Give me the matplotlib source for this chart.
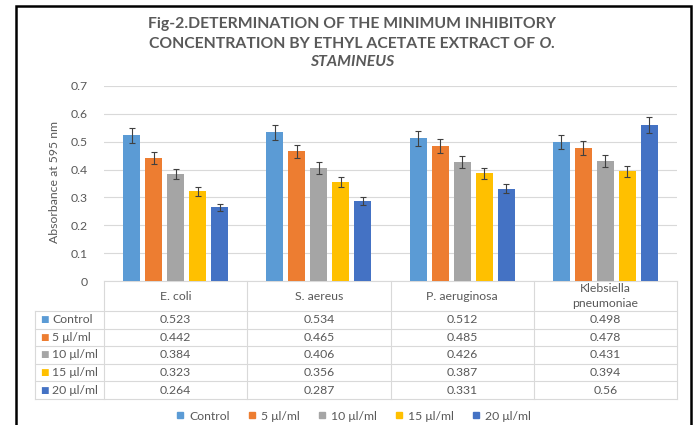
import matplotlib
matplotlib.use("Agg")
import matplotlib.pyplot as plt
from matplotlib.patches import Patch, Rectangle

plt.rcParams['font.family'] = ['Lato', 'DejaVu Sans']

categories = ["E. coli", "S. aereus", "P. aeruginosa", "Klebsiella\npneumoniae"]
series_names = ["Control", "5 μl/ml", "10 μl/ml", "15 μl/ml", "20 μl/ml"]
control = [0.523, 0.534, 0.512, 0.498]
ul5 = [0.442, 0.465, 0.485, 0.478]
ul10 = [0.384, 0.406, 0.426, 0.431]
ul15 = [0.323, 0.356, 0.387, 0.394]
ul20 = [0.264, 0.287, 0.331, 0.56]
series = [control, ul5, ul10, ul15, ul20]
err_pct = 0.05  # Excel percentage error bars
colors = ["#5B9BD5", "#ED7D31", "#A5A5A5", "#FFC000", "#4472C4"]
yticks = [0, 0.1, 0.2, 0.3, 0.4, 0.5, 0.6, 0.7]

TXT = "#595959"
GRID = "#D9D9D9"
FS = 8.8

fig = plt.figure(figsize=(6.97, 4.25), dpi=100)
W, H = 697, 425
ax = fig.add_axes([104 / W, 1 - 281 / H, 573 / W, 195 / H])

step = 0.1535
bw = 0.1186
for j, (vals, c) in enumerate(zip(series, colors)):
    xs = [i + (j - 2) * step for i in range(len(categories))]
    ax.bar(xs, vals, width=bw, color=c, zorder=3)
    ax.errorbar(xs, vals, yerr=[v * err_pct for v in vals], fmt='none',
                ecolor="#404040", elinewidth=0.8, capsize=2.5, capthick=0.8, zorder=4)

ax.set_xlim(-0.5, len(categories) - 0.5)
ax.set_ylim(0, 0.7)
ax.set_yticks(yticks)
ax.set_yticklabels([f"{t:g}" for t in yticks])
ax.tick_params(axis='y', length=0, pad=12, labelsize=FS, labelcolor=TXT)
ax.set_xticks([])
ax.grid(axis='y', color=GRID, lw=0.8, zorder=0)
for s in ['top', 'right', 'left']:
    ax.spines[s].set_visible(False)
ax.spines['bottom'].set_color(GRID)
ax.spines['bottom'].set_linewidth(0.8)

# data table
T = ax.transAxes
n = len(categories)
label_left = (35 - 104) / 573
hdr_bot = -30 / 195
row_h = 17.6 / 195
bottom = hdr_bot - len(series) * row_h
lk = dict(color=GRID, lw=0.8, transform=T, clip_on=False)
for r in range(len(series) + 1):
    y = hdr_bot - r * row_h
    ax.plot([label_left, 1], [y, y], **lk)
ax.plot([label_left, label_left], [hdr_bot, bottom], **lk)
for i in range(n + 1):
    x = i / n
    ax.plot([x, x], [0, bottom], **lk)
for i, cat in enumerate(categories):
    ax.text((i + 0.5) / n, hdr_bot / 2, cat, transform=T, ha='center', va='center',
            fontsize=FS, color=TXT, linespacing=1.35)
for r, (name, vals, c) in enumerate(zip(series_names, series, colors)):
    y = hdr_bot - (r + 0.5) * row_h
    ax.text((40 - 104) / 573, y, "■", transform=T, ha='left', va='center',
            fontsize=6.5, color=c, family=['DejaVu Sans'])
    ax.text((52 - 104) / 573, y, name, transform=T, ha='left', va='center',
            fontsize=FS, color=TXT)
    for i, v in enumerate(vals):
        ax.text((i + 0.5) / n, y, f"{v:g}", transform=T, ha='center', va='center',
                fontsize=FS, color=TXT)

# y label
fig.text(55 / W, 1 - 182 / H, "Absorbance at 595 nm", rotation=90, ha='center', va='center',
         fontsize=FS, color=TXT)

# title
tcx = 352 / W
tk = dict(fontsize=11.3, fontweight='bold', color=TXT, va='center')
fig.text(tcx, 1 - 24 / H, "Fig-2.DETERMINATION OF THE MINIMUM INHIBITORY", ha='center', **tk)
r = fig.canvas.get_renderer()
ta = fig.text(0, 1 - 44 / H, "CONCENTRATION BY ETHYL ACETATE EXTRACT OF", ha='left', **tk)
tb = fig.text(0, 1 - 44 / H, " O.", ha='left', style='italic', **tk)
wa = ta.get_window_extent(r).width / W
wb = tb.get_window_extent(r).width / W
x0 = tcx - (wa + wb) / 2
ta.set_x(x0)
tb.set_x(x0 + wa)
fig.text(tcx, 1 - 62 / H, "STAMINEUS", ha='center', style='italic', **tk)

# legend
handles = [Patch(color=c, label=nm) for c, nm in zip(colors, series_names)]
leg = fig.legend(handles=handles, loc='center', bbox_to_anchor=(354 / W, 1 - 416 / H), ncol=5,
                 frameon=False, fontsize=FS, handlelength=0.45, handleheight=0.45,
                 handletextpad=0.5, columnspacing=1.6, labelcolor=TXT)

# outer border
fig.patches.append(Rectangle((16 / W, -0.05), (691 - 16) / W, 1.05 - 6 / H,
                             transform=fig.transFigure, fill=False, ec='black', lw=1.8))

fig.savefig("out.png", dpi=100)
